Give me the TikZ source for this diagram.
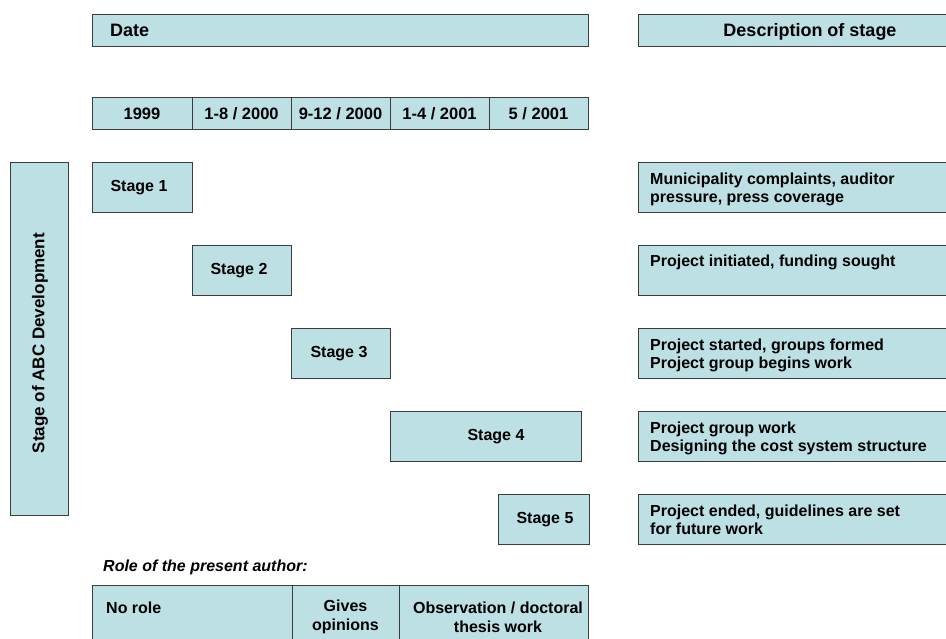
\documentclass[tikz,border=0pt]{standalone}
\usepackage{fontspec}
\setmainfont{Liberation Sans}
\usetikzlibrary{shadows}
\definecolor{cellfill}{RGB}{188,224,227}
\definecolor{celledge}{RGB}{60,60,60}
\tikzset{
  cell/.style={rectangle, draw=celledge, line width=0.9pt, fill=cellfill,
    inner sep=0pt, outer sep=0pt, anchor=north west,
    drop shadow={shadow xshift=1pt, shadow yshift=-1pt, fill=black!45, opacity=0.6}},
  hdr/.style={font=\bfseries\fontsize{18}{20}\selectfont, inner sep=0pt},
  datetxt/.style={font=\bfseries\fontsize{16.5}{19}\selectfont, inner sep=0pt},
  stagetxt/.style={font=\bfseries\fontsize{16}{18}\selectfont, inner sep=0pt},
  desctxt/.style={font=\bfseries\fontsize{16}{18}\selectfont, inner sep=0pt,
    anchor=north west, align=left},
  roletxt/.style={font=\bfseries\fontsize{16}{19}\selectfont, inner sep=0pt, align=center},
}
\begin{document}
\begin{tikzpicture}[x=1pt,y=-1pt]
\useasboundingbox[fill=white] (0,0) rectangle (946,638);
\clip (0,0) rectangle (946,638);

% column headers
\node[cell, minimum width=496, minimum height=32] (date) at (92,14) {};
\node[hdr, anchor=west] (datet) at (110,30) {Date};
\node[cell, minimum width=340, minimum height=32] (desc) at (638,14) {};
\node[hdr] (desct) at (810,31.5) {Description of stage};

% date row
\node[cell, minimum width=100, minimum height=32] (y1) at (92,97) {};
\node[cell, minimum width=99, minimum height=32] (y2) at (192,97) {};
\node[cell, minimum width=99, minimum height=32] (y3) at (291,97) {};
\node[cell, minimum width=99, minimum height=32] (y4) at (390,97) {};
\node[cell, minimum width=99, minimum height=32] (y5) at (489,97) {};
\node[datetxt] (y1t) at (142,113.5) {1999};
\node[datetxt] (y2t) at (241.5,113.5) {1-8 / 2000};
\node[datetxt] (y3t) at (340.5,113.5) {9-12 / 2000};
\node[datetxt] (y4t) at (439.5,113.5) {1-4 / 2001};
\node[datetxt] (y5t) at (538.5,113.5) {5 / 2001};

% vertical axis label
\node[cell, minimum width=58, minimum height=353] (axis) at (10,162) {};
\node[font=\bfseries\fontsize{17}{19}\selectfont, inner sep=0pt, rotate=90]
  (axist) at (40,343) {Stage of ABC Development};

% stages
\node[cell, minimum width=100, minimum height=50] (s1) at (92,162) {};
\node[cell, minimum width=99, minimum height=50] (s2) at (192,245) {};
\node[cell, minimum width=99, minimum height=50] (s3) at (291,328) {};
\node[cell, minimum width=191, minimum height=50] (s4) at (390,411) {};
\node[cell, minimum width=91, minimum height=50] (s5) at (498,494) {};
\node[stagetxt] (s1t) at (139,187.5) {Stage 1};
\node[stagetxt] (s2t) at (239,270.5) {Stage 2};
\node[stagetxt] (s3t) at (339,353.5) {Stage 3};
\node[stagetxt] (s4t) at (496,436.5) {Stage 4};
\node[stagetxt] (s5t) at (545,519.5) {Stage 5};

% stage descriptions
\node[cell, minimum width=340, minimum height=50] (d1) at (638,162) {};
\node[cell, minimum width=340, minimum height=50] (d2) at (638,245) {};
\node[cell, minimum width=340, minimum height=50] (d3) at (638,328) {};
\node[cell, minimum width=340, minimum height=50] (d4) at (638,411) {};
\node[cell, minimum width=340, minimum height=50] (d5) at (638,494) {};
\node[desctxt] (d1t) at (650,173) {Municipality complaints, auditor\\pressure, press coverage};
\node[desctxt] (d2t) at (650,255) {Project initiated, funding sought};
\node[desctxt] (d3t) at (650,339) {Project started, groups formed\\Project group begins work};
\node[desctxt] (d4t) at (650,422) {Project group work\\Designing the cost system structure};
\node[desctxt] (d5t) at (650,505) {Project ended, guidelines are set\\for future work};

% role of the author
\node[font=\bfseries\itshape\fontsize{16}{18}\selectfont, inner sep=0pt, anchor=west]
  (role) at (103,567) {Role of the present author:};
\node[cell, minimum width=200, minimum height=80] (r1) at (92,585) {};
\node[cell, minimum width=107, minimum height=80] (r2) at (292,585) {};
\node[cell, minimum width=189, minimum height=80] (r3) at (399,585) {};
\node[roletxt, anchor=west] (r1t) at (106,608) {No role};
\node[roletxt] (r2t) at (345.5,617) {Gives\\opinions};
\node[roletxt] (r3t) at (498,617) {Observation / doctoral\\thesis work};
\end{tikzpicture}
\end{document}
